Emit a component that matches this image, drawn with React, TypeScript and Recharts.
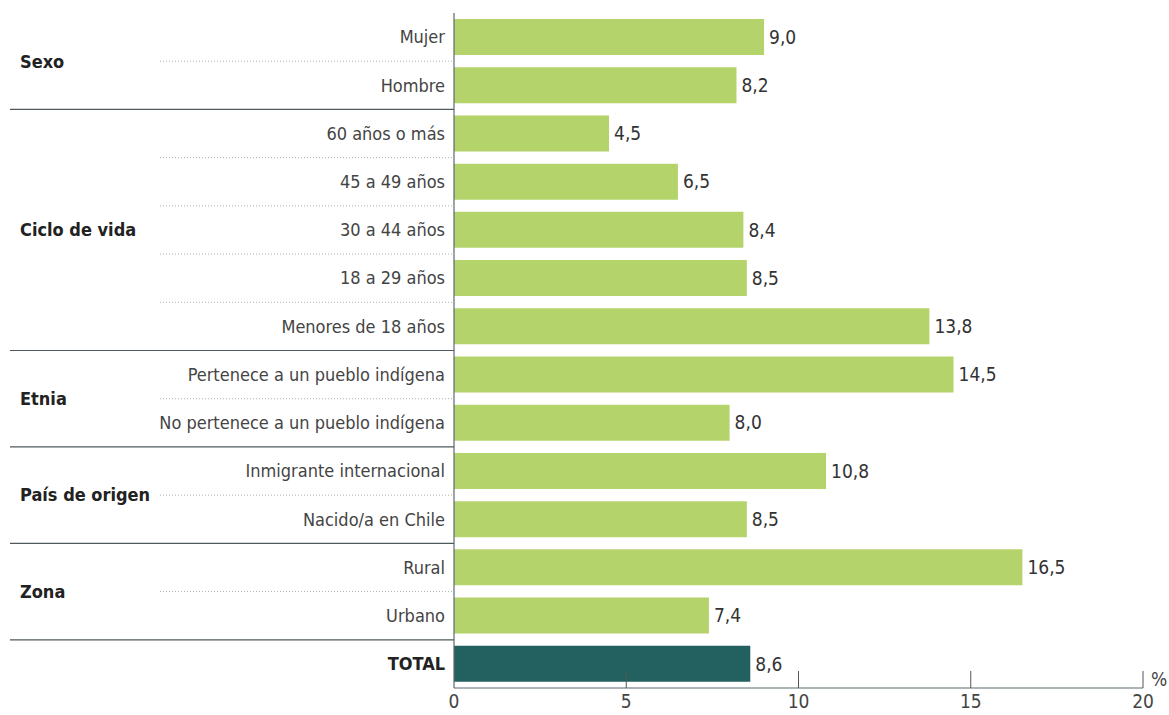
import { Bar, BarChart, Cell, LabelList, XAxis, YAxis } from "recharts";

const categories = [
  "Mujer",
  "Hombre",
  "60 años o más",
  "45 a 49 años",
  "30 a 44 años",
  "18 a 29 años",
  "Menores de 18 años",
  "Pertenece a un pueblo indígena",
  "No pertenece a un pueblo indígena",
  "Inmigrante internacional",
  "Nacido/a en Chile",
  "Rural",
  "Urbano",
  "TOTAL",
];
const values = [9.0, 8.2, 4.5, 6.5, 8.4, 8.5, 13.8, 14.5, 8.0, 10.8, 8.5, 16.5, 7.4, 8.6];
const groupNames = ["Sexo", "Ciclo de vida", "Etnia", "País de origen", "Zona", ""];
const groupSizes = [2, 5, 2, 2, 2, 1];
const xTicks = [0, 5, 10, 15, 20];

const W = 1169;
const H = 715;
const TOP = 13;
const AXIS_H = 27;
const STEP = (H - TOP - AXIS_H) / categories.length;
const GREEN = "#b5d36b";
const TEAL = "#22615f";
const FONT = "'DejaVu Sans Condensed', 'DejaVu Sans', sans-serif";
const TXT = { fontFamily: FONT, fontStretch: "condensed" } as const;

// group index of each row, and whether the row starts / ends its group
const rowInfo = (() => {
  const out: { group: number; first: boolean; last: boolean }[] = [];
  groupSizes.forEach((n, g) => {
    for (let i = 0; i < n; i++) out.push({ group: g, first: i === 0, last: i === n - 1 });
  });
  return out;
})();

const data = categories.map((name, i) => ({ name, value: values[i] }));

function CategoryTick(props: any) {
  const { x, y, payload, index } = props;
  const info = rowInfo[index];
  const isTotal = payload.value === "TOTAL";
  const lineY = y + STEP / 2;
  const isLastRow = index === categories.length - 1;
  return (
    <g>
      <text
        x={x - 9}
        y={y}
        dy="0.35em"
        textAnchor="end"
        style={TXT}
        fontSize={18}
        fontWeight={isTotal ? 700 : 400}
        fill={isTotal ? "#222" : "#444"}
      >
        {payload.value}
      </text>
      {info.first && groupNames[info.group] && (
        <text
          x={20}
          y={y + ((groupSizes[info.group] - 1) * STEP) / 2}
          dy="0.35em"
          style={TXT}
          fontSize={18}
          fontWeight={700}
          fill="#222"
        >
          {groupNames[info.group]}
        </text>
      )}
      {!isLastRow &&
        (info.last ? (
          <line x1={10} x2={x} y1={lineY} y2={lineY} stroke="#4f5a5e" strokeWidth={1.2} />
        ) : (
          <line x1={160} x2={x} y1={lineY} y2={lineY} stroke="#b0b0b0" strokeDasharray="1 2" />
        ))}
    </g>
  );
}

function ValueTick(props: any) {
  const { x, y, payload, index } = props;
  return (
    <g>
      {index > 0 && <line x1={x} x2={x} y1={y - 17} y2={y} stroke="#555" />}
      <text x={x} y={y + 20} textAnchor="middle" style={TXT} fontSize={19} fill="#444">
        {payload.value}
      </text>
      {index === xTicks.length - 1 && (
        <text x={x + 8} y={y - 2} style={TXT} fontSize={19} fill="#444">
          %
        </text>
      )}
    </g>
  );
}

export default function App() {
  return (
    <div style={{ position: "absolute", left: 0, top: 0, background: "#fff" }}>
      <BarChart
        width={W}
        height={H}
        data={data}
        layout="vertical"
        margin={{ top: TOP, right: 26, bottom: 0, left: 0 }}
        barCategoryGap={6}
      >
        <XAxis
          type="number"
          domain={[0, 20]}
          ticks={xTicks}
          height={AXIS_H}
          tickSize={0}
          tickMargin={0}
          tickLine={false}
          axisLine={{ stroke: "#5a6b70", strokeWidth: 1.2 }}
          tick={<ValueTick />}
          interval={0}
        />
        <YAxis
          type="category"
          dataKey="name"
          width={454}
          tickSize={0}
          tickMargin={0}
          tickLine={false}
          axisLine={{ stroke: "#5a6b70", strokeWidth: 1.2 }}
          tick={<CategoryTick />}
          interval={0}
        />
        <Bar dataKey="value" isAnimationActive={false}>
          {data.map((d) => (
            <Cell key={d.name} fill={d.name === "TOTAL" ? TEAL : GREEN} />
          ))}
          <LabelList
            dataKey="value"
            position="right"
            offset={5}
            formatter={(v: any) => Number(v).toFixed(1).replace(".", ",")}
            style={{ ...TXT, fontSize: 19, fill: "#333" }}
          />
        </Bar>
      </BarChart>
    </div>
  );
}
